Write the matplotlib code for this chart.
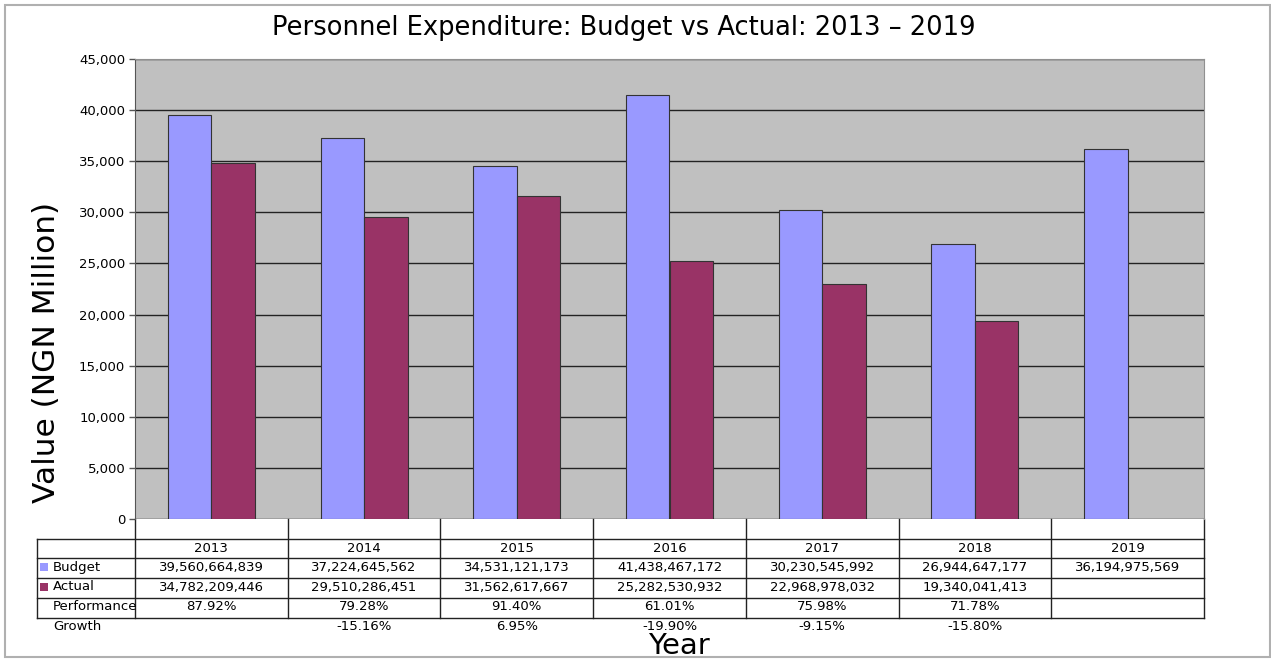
import numpy as np
import matplotlib
matplotlib.use("Agg")
import matplotlib.pyplot as plt
from matplotlib.patches import Rectangle
from matplotlib.transforms import blended_transform_factory
from matplotlib.ticker import FuncFormatter

# personnel expenditure, NGN
years = ["2013", "2014", "2015", "2016", "2017", "2018", "2019"]
budget = [39560664839, 37224645562, 34531121173, 41438467172,
          30230545992, 26944647177, 36194975569]
actual = [34782209446, 29510286451, 31562617667, 25282530932,
          22968978032, 19340041413, None]
performance = ["87.92%", "79.28%", "91.40%", "61.01%", "75.98%", "71.78%", ""]
growth = ["", "-15.16%", "6.95%", "-19.90%", "-9.15%", "-15.80%", ""]

budget_col = "#9999FF"
actual_col = "#993366"

W, H = 1271, 659
fig = plt.figure(figsize=(W / 100, H / 100), dpi=100)

def fx(px):
    return px / W

def fy(py):
    return 1 - py / H

# outer chart border
fig.add_artist(Rectangle((fx(5), fy(657)), fx(1265), 652 / H, transform=fig.transFigure,
                         fill=False, edgecolor="#b0b0b0", lw=1.5))

ax = fig.add_axes([fx(135), fy(519), fx(1204 - 135), (519 - 59) / H])
ax.set_facecolor("#C0C0C0")

x = np.arange(len(years))
bw = 0.285
ax.bar(x - bw / 2, [b / 1e6 for b in budget], bw, color=budget_col,
       edgecolor="#333333", lw=0.8, zorder=3)
act_x = [i for i, a in enumerate(actual) if a is not None]
act_v = [actual[i] / 1e6 for i in act_x]
ax.bar(np.array(act_x) + bw / 2, act_v, bw, color=actual_col,
       edgecolor="#333333", lw=0.8, zorder=3)

ax.set_xlim(-0.5, len(years) - 0.5)
ax.set_ylim(0, 45000)
ax.set_yticks(np.arange(0, 45001, 5000))
ax.yaxis.set_major_formatter(FuncFormatter(lambda v, p: f"{int(v):,}"))
ax.grid(axis="y", color="#222222", lw=1, zorder=1)
ax.set_xticks([])
ax.tick_params(axis="y", length=4, width=1, color="#555555", labelsize=9.5, pad=3)
for s in ["top", "right"]:
    ax.spines[s].set_color("#909090")
ax.spines["left"].set_color("#555555")
ax.spines["bottom"].set_visible(False)

fig.text(0.491, fy(28), "Personnel Expenditure: Budget vs Actual: 2013 \u2013 2019",
         ha="center", va="center", fontsize=18.5)
fig.text(fx(47), fy(352), "Value (NGN Million)", rotation=90,
         ha="center", va="center", fontsize=22.5)
fig.text(fx(679), fy(654), "Year", ha="center", va="baseline", fontsize=21)

# data table under the plot
tr = blended_transform_factory(ax.transData, fig.transFigure)
rows_y = [539, 558, 578, 598, 618]
x_left = -0.5 - (135 - 37) / ((1204 - 135) / len(years))
for ry in rows_y:
    ax.plot([x_left, len(years) - 0.5], [fy(ry), fy(ry)], color="#222222", lw=1,
            transform=tr, clip_on=False)
for b in np.arange(-0.5, len(years), 1.0):
    ax.plot([b, b], [fy(519), fy(618)], color="#222222", lw=1, transform=tr, clip_on=False)
ax.plot([x_left, x_left], [fy(539), fy(618)], color="#222222", lw=1,
        transform=tr, clip_on=False)

def fmt(v):
    return "" if v is None else f"{v:,}"

cells = [years, [fmt(v) for v in budget], [fmt(v) for v in actual], performance, growth]
centers = [548, 567, 587, 607, 627]
for row, cy in zip(cells, centers):
    for i, t in enumerate(row):
        ax.text(i, fy(cy), t, transform=tr, ha="center", va="center", fontsize=9.5,
                clip_on=False)

labels = ["Budget", "Actual", "Performance", "Growth"]
for lab, cy in zip(labels, centers[1:]):
    fig.text(fx(53), fy(cy), lab, ha="left", va="center", fontsize=9.5)
for col, cy in zip([budget_col, actual_col], centers[1:3]):
    fig.add_artist(Rectangle((fx(40), fy(cy + 4)), fx(8), 8 / H, transform=fig.transFigure,
                             facecolor=col, edgecolor="none"))

fig.savefig("out.png", dpi=100)
